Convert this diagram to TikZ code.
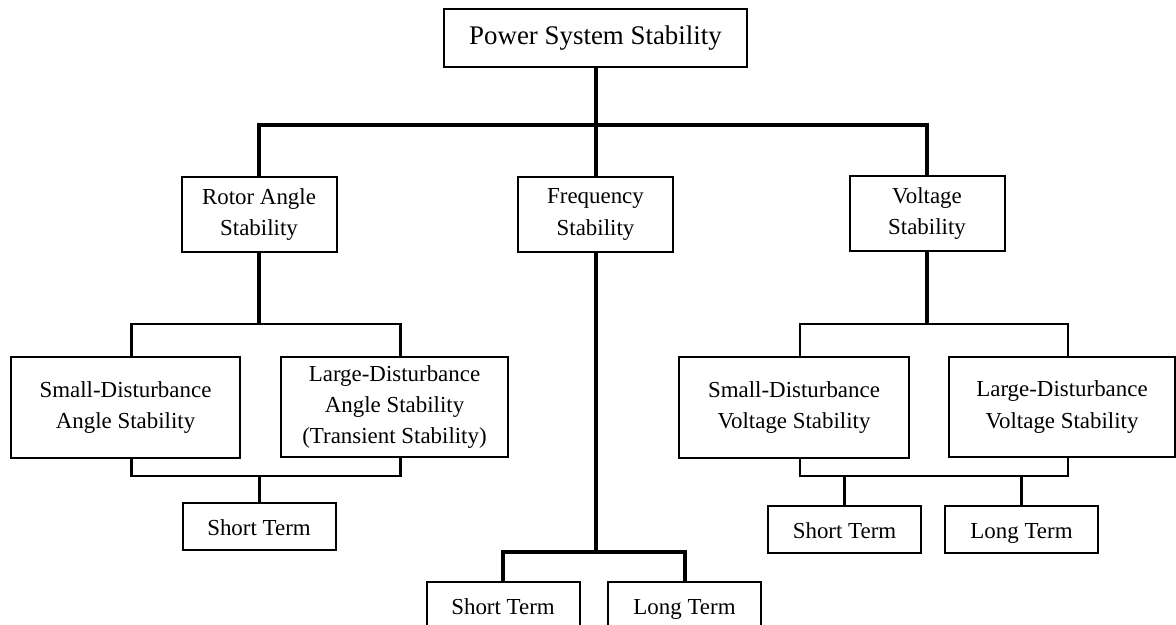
\documentclass[tikz,border=0pt]{standalone}
\usepackage{fontspec}
\setmainfont{Liberation Serif}
\usepackage{tikz}

\tikzset{
  stabbox/.style={draw,line width=1bp,align=center,inner sep=0pt,
    font=\fontsize{11.5}{15.75}\selectfont},
  termbox/.style={stabbox,minimum width=76.5bp,minimum height=23.5bp,
    text height=8.5bp,text depth=0pt},
  trunk/.style={line width=2bp},
  mid/.style={line width=1.5bp},
  branch/.style={line width=1.2bp}
}

\begin{document}
\begin{tikzpicture}
\useasboundingbox (0,0) rectangle (588bp,-312.5bp);

\node (PSS) at (297.75bp,-19bp)[stabbox,minimum width=151.5bp,minimum height=29bp,font=\fontsize{13.5}{16}\selectfont] {Power System Stability};
\node (RAS) at (129.5bp,-107.25bp)[stabbox,minimum width=77.5bp,minimum height=37.5bp] {Rotor Angle\\Stability};
\node (FS) at (297.75bp,-107.25bp)[stabbox,minimum width=77.5bp,minimum height=37.5bp] {Frequency\\Stability};
\node (VS) at (463.5bp,-106.75bp)[stabbox,minimum width=77.5bp,minimum height=37.5bp] {Voltage\\Stability};
\node (SDA) at (62.75bp,-203.75bp)[stabbox,minimum width=114.5bp,minimum height=50.5bp] {Small-Disturbance\\Angle Stability};
\node (LDA) at (197.25bp,-203.5bp)[stabbox,minimum width=113.5bp,minimum height=50bp] {Large-Disturbance\\Angle Stability\\(Transient Stability)};
\node (STA) at (129.5bp,-263.25bp)[termbox] {Short Term};
\node (SDV) at (397bp,-203.75bp)[stabbox,minimum width=115bp,minimum height=50.5bp] {Small-Disturbance\\Voltage Stability};
\node (LDV) at (531bp,-203.5bp)[stabbox,minimum width=113bp,minimum height=50bp] {Large-Disturbance\\Voltage Stability};
\node (STV) at (422.25bp,-264.75bp)[termbox] {Short Term};
\node (LTV) at (510.75bp,-264.75bp)[termbox] {Long Term};
\node (STF) at (251.5bp,-302.75bp)[termbox] {Short Term};
\node (LTF) at (342.25bp,-302.75bp)[termbox] {Long Term};

\coordinate (MainBus) at (297.75bp,-62.5bp);
\coordinate (RAtop) at (129.5bp,-162bp);
\coordinate (RAbot) at (129.5bp,-238bp);
\coordinate (VLtop) at (463.5bp,-162bp);
\coordinate (VLbot) at (463.5bp,-238bp);
\coordinate (FRbus) at (297.75bp,-276bp);

\draw [trunk] (PSS.south) -- (FS.north);
\draw [trunk] (RAS.north) |- (MainBus) -| (VS.north);

\draw [trunk] (RAS.south) -- (RAtop);
\draw [branch] ([xshift=3bp]SDA.north) |- (RAtop) -| ([xshift=3bp]LDA.north);
\draw [branch] ([xshift=3bp]SDA.south) |- (RAbot) -| ([xshift=3bp]LDA.south);
\draw [mid] (RAbot) -- (STA.north);

\draw [trunk] (FS.south) -- (FRbus);
\draw [trunk] (STF.north) |- (FRbus) -| (LTF.north);

\draw [trunk] (VS.south) -- (VLtop);
\draw [branch] ([xshift=3bp]SDV.north) |- (VLtop) -| ([xshift=3bp]LDV.north);
\draw [branch] ([xshift=3bp]SDV.south) |- (VLbot) -| ([xshift=3bp]LDV.south);
\draw [mid] (STV.north) -- (STV.north |- VLbot);
\draw [mid] (LTV.north) -- (LTV.north |- VLbot);
\end{tikzpicture}
\end{document}
